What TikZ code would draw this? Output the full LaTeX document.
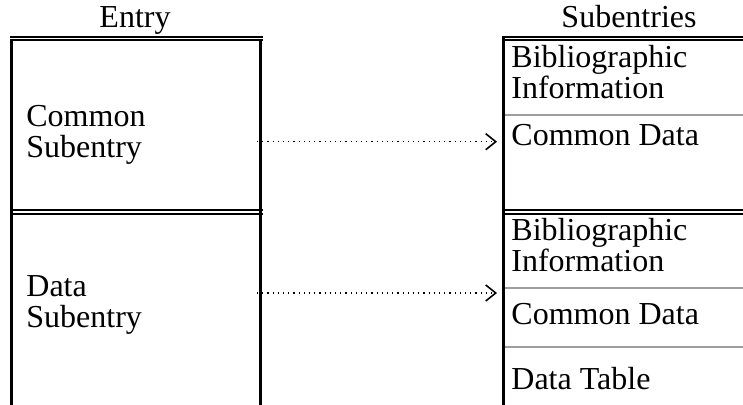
\documentclass[tikz,border=0pt]{standalone}
\usepackage{fontspec}
\setmainfont{Liberation Serif}
\usetikzlibrary{arrows.meta}
\tikzset{>={Straight Barb[length=5pt,width=8pt,line width=0.8pt]}}
\tikzset{
  frame/.style={line width=1.25pt},
  rule/.style={line width=0.85pt},
  sep/.style={line width=0.75pt, color=black!38},
  txt/.style={inner sep=0pt, align=left, anchor=base west, font=\fontsize{16}{15.5}\selectfont},
  head/.style={inner sep=0pt, anchor=base, font=\fontsize{16}{15.5}\selectfont},
  link/.style={->, dotted, line width=0.6pt}
}

\begin{document}
\begin{tikzpicture}[x=0.5pt,y=-0.5pt]
			\useasboundingbox (0,0) rectangle (743,405);
			% column heads
			\node[head] (entry) at (135,28) {Entry};
			\node[head] (subs) at (629,28) {Subentries};
			
			% left column
			\draw[rule] (10,36.8) -- (263,36.8);
			\draw[rule] (10,40.2) -- (263,40.2);
			\draw[rule] (10,210.3) -- (263,210.3);
			\draw[rule] (10,213.7) -- (263,213.7);
			\draw[frame] (11.3,40) -- (11.3,405);
			\draw[frame] (260.5,40) -- (260.5,405);
			\node[txt] (common) at (26,158) {Common\\Subentry};
			\node[txt] (data) at (26,328) {Data\\Subentry};
			
			% right column
			\draw[rule] (502,36.8) -- (743,36.8);
			\draw[rule] (502,40.2) -- (743,40.2);
			\draw[rule] (502,210.3) -- (743,210.3);
			\draw[rule] (502,213.7) -- (743,213.7);
			\draw[frame] (503.3,36) -- (503.3,405);
			\draw[sep] (505,115) -- (743,115);
			\draw[sep] (505,288) -- (743,288);
			\draw[sep] (505,347) -- (743,347);
			\node[txt] (bib1) at (511,99) {Bibliographic\\Information};
			\node[txt] (cd1) at (511,146) {Common Data};
			\node[txt] (bib2) at (511,272) {Bibliographic\\Information};
			\node[txt] (cd2) at (511,324) {Common Data};
			\node[txt] (dt) at (511,389) {Data Table};
			
			% links
			\coordinate (from1) at (257,141.7);
			\coordinate (to1) at (497,141.7);
			\coordinate (from2) at (257,293);
			\coordinate (to2) at (497,293);
			\draw[link] (from1) -- (to1);
			\draw[link] (from2) -- (to2);
\end{tikzpicture}
\end{document}
